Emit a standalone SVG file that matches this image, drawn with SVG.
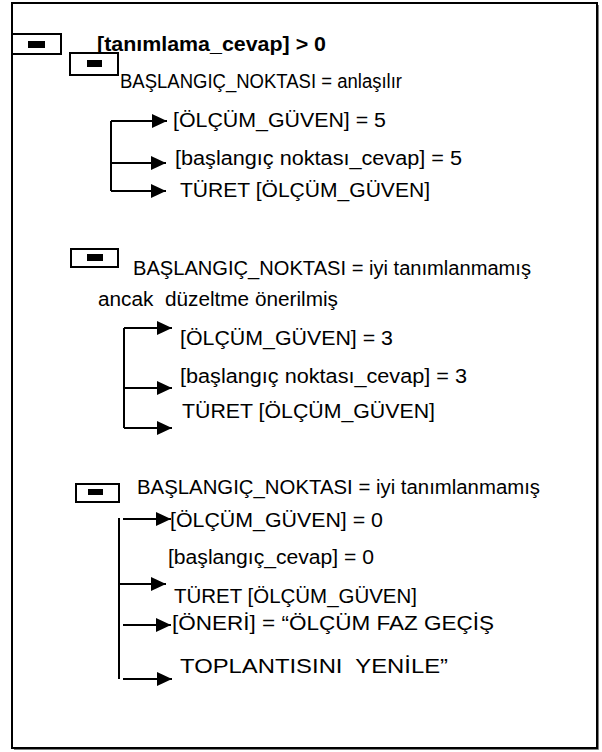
<svg xmlns="http://www.w3.org/2000/svg" width="602" height="752" viewBox="0 0 602 752">
<defs>
<style>
.t{font-family:"Liberation Sans",Arial,sans-serif;font-size:20px;fill:#000}
.b{font-weight:bold}
.box{fill:#fff;stroke:#000;stroke-width:2}
.mark{fill:#000}
.ln{fill:none;stroke:#000;stroke-width:2}
</style>
<marker id="ah" markerWidth="16" markerHeight="14" refX="15" refY="7" orient="auto" markerUnits="userSpaceOnUse">
<path d="M0,0 L15,7 L0,14 Z" fill="#000"/>
</marker>
</defs>
<rect x="0" y="0" width="602" height="752" fill="#fff"/>
<path d="M598,5 V749 H14" fill="none" stroke="#555" stroke-width="1.5"/>
<rect id="frame" x="12" y="3" width="585" height="745" fill="none" stroke="#000" stroke-width="2"/>

<g id="node-root">
<rect class="box" x="12" y="34" width="49" height="20"/>
<rect class="mark" x="28" y="41" width="17" height="7"/>
<text class="t b" x="97" y="51" textLength="229" lengthAdjust="spacingAndGlyphs">[tanımlama_cevap] &gt; 0</text>
</g>

<g id="node-case1">
<rect class="box" x="70" y="53" width="48" height="22"/>
<rect class="mark" x="87" y="60" width="15" height="7"/>
<text class="t" x="120" y="88" textLength="282" lengthAdjust="spacingAndGlyphs">BAŞLANGIÇ_NOKTASI = anlaşılır</text>
<text class="t" x="173" y="127" textLength="213" lengthAdjust="spacingAndGlyphs">[ÖLÇÜM_GÜVEN] = 5</text>
<text class="t" x="175" y="165" textLength="287" lengthAdjust="spacingAndGlyphs">[başlangıç noktası_cevap] = 5</text>
<text class="t" x="180" y="197" textLength="250" lengthAdjust="spacingAndGlyphs">TÜRET [ÖLÇÜM_GÜVEN]</text>
</g>

<g id="node-case2">
<rect class="box" x="71" y="249" width="47" height="18"/>
<rect class="mark" x="87" y="254" width="16" height="7"/>
<text class="t" x="133" y="275" textLength="398" lengthAdjust="spacingAndGlyphs">BAŞLANGIÇ_NOKTASI = iyi tanımlanmamış</text>
<text class="t" x="98" y="306" xml:space="preserve" textLength="240" lengthAdjust="spacingAndGlyphs">ancak  düzeltme önerilmiş</text>
<text class="t" x="180" y="345" textLength="213" lengthAdjust="spacingAndGlyphs">[ÖLÇÜM_GÜVEN] = 3</text>
<text class="t" x="180" y="383" textLength="287" lengthAdjust="spacingAndGlyphs">[başlangıç noktası_cevap] = 3</text>
<text class="t" x="182" y="418" textLength="253" lengthAdjust="spacingAndGlyphs">TÜRET [ÖLÇÜM_GÜVEN]</text>
</g>

<g id="node-case3">
<rect class="box" x="76" y="484" width="43" height="18"/>
<rect class="mark" x="88" y="489" width="15" height="6"/>
<text class="t" x="137" y="494" textLength="403" lengthAdjust="spacingAndGlyphs">BAŞLANGIÇ_NOKTASI = iyi tanımlanmamış</text>
<text class="t" x="170" y="527" textLength="213" lengthAdjust="spacingAndGlyphs">[ÖLÇÜM_GÜVEN] = 0</text>
<text class="t" x="168" y="564" textLength="206" lengthAdjust="spacingAndGlyphs">[başlangıç_cevap] = 0</text>
<text class="t" x="174" y="603" textLength="243" lengthAdjust="spacingAndGlyphs">TÜRET [ÖLÇÜM_GÜVEN]</text>
<text class="t" x="172" y="630" textLength="322" lengthAdjust="spacingAndGlyphs">[ÖNERİ] = “ÖLÇÜM FAZ GEÇİŞ</text>
<text class="t" x="180" y="673" xml:space="preserve" textLength="268" lengthAdjust="spacingAndGlyphs">TOPLANTISINI  YENİLE”</text>
</g>

<g id="connectors">
<path class="ln" d="M111,121 V191"/>
<path class="ln" d="M111,121 H167" marker-end="url(#ah)"/>
<path class="ln" d="M111,163 H166" marker-end="url(#ah)"/>
<path class="ln" d="M111,191 H166" marker-end="url(#ah)"/>

<path class="ln" d="M124,328 V428"/>
<path class="ln" d="M124,328 H172" marker-end="url(#ah)"/>
<path class="ln" d="M124,388 H172" marker-end="url(#ah)"/>
<path class="ln" d="M124,428 H172" marker-end="url(#ah)"/>

<path class="ln" d="M119,518 V679"/>
<path class="ln" d="M123,519 H171" marker-end="url(#ah)"/>
<path class="ln" d="M119,584 H166" marker-end="url(#ah)"/>
<path class="ln" d="M123,625 H171" marker-end="url(#ah)"/>
<path class="ln" d="M123,679 H172" marker-end="url(#ah)"/>
</g>
</svg>
